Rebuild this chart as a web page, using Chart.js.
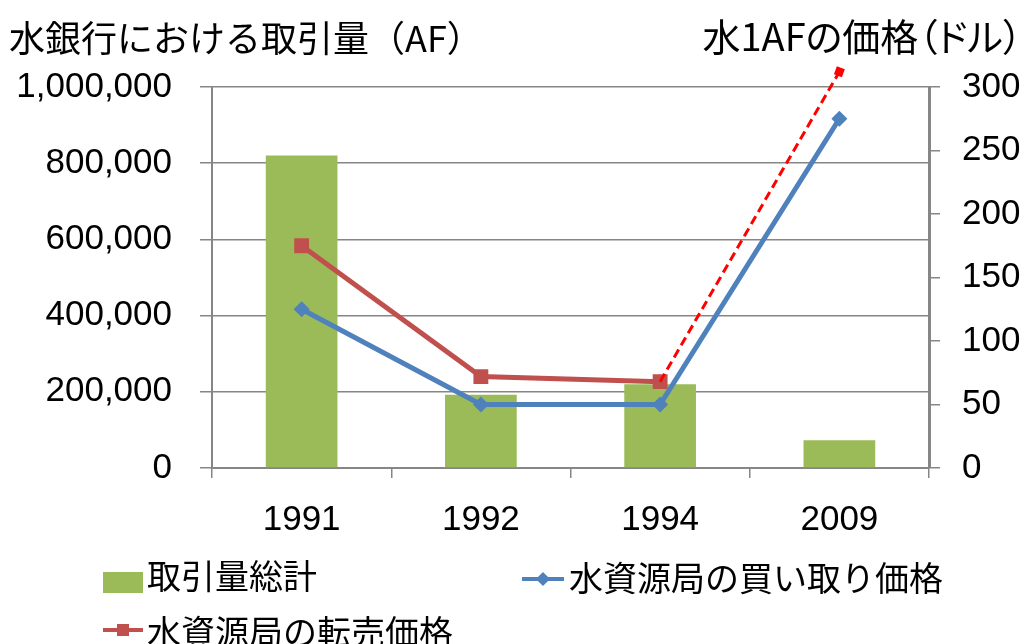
<!DOCTYPE html>
<html>
<head>
<meta charset="utf-8">
<script src="https://cdn.jsdelivr.net/npm/chart.js@4/dist/chart.umd.min.js"></script>
<style>
  body { margin: 0; background: #fff; }
  #wrap { position: relative; width: 1026px; height: 644px; overflow: hidden; }
  #chart { position: absolute; left: 0; top: 0; }
  .jp { position: absolute; font-family: "Noto Sans CJK JP", sans-serif; font-size: 34px; line-height: 40px; color: #000; white-space: nowrap; }
  .title { font-size: 36px; }
  .sw { position: absolute; }
</style>
</head>
<body>
<div id="wrap">
  <canvas id="chart" width="1026" height="644"></canvas>
  <div class="jp title" style="left:9px; top:16px;">水銀行における取引量（AF）</div>
  <div class="jp title" style="right:4px; top:15px; font-size:38px; font-feature-settings:'palt';">水1AFの価格（ドル）</div>

  <!-- legend -->
  <div class="sw" style="left:103px; top:572px; width:40px; height:21px; background:#9BBB59;"></div>
  <div class="jp" id="lg1" style="left:147px; top:555px;"></div>

  <div class="sw" style="left:522px; top:577px; width:42px; height:4px; background:#4F81BD;"></div>
  <div class="sw" style="left:538px; top:574px; width:10px; height:10px; background:#4F81BD; transform:rotate(45deg);"></div>
  <div class="jp" id="lg2" style="left:569px; top:557px;"></div>

  <div class="sw" style="left:103px; top:628px; width:40px; height:4px; background:#C0504D;"></div>
  <div class="sw" style="left:117px; top:624px; width:12px; height:12px; background:#C0504D;"></div>
  <div class="jp" id="lg3" style="left:147px; top:611px;"></div>
</div>
<script>
// data
let years = ["1991", "1992", "1994", "2009"];
let seriesNames = ["取引量総計", "水資源局の買い取り価格", "水資源局の転売価格"];
let volume = [820000, 192000, 220000, 73000];
let buyPrice = [125, 50, 50, 275];
let resalePrice = [175, 72, 68, null];
let resaleTrend = [null, null, 68, 312];

let green = "#9BBB59";
let blue = "#4F81BD";
let red = "#C0504D";
let gray = "#868686";

document.getElementById("lg1").textContent = seriesNames[0];
document.getElementById("lg2").textContent = seriesNames[1];
document.getElementById("lg3").textContent = seriesNames[2];

let tickFont = { family: "Liberation Sans", size: 35 };

// points above the chart area are skipped by chart.js, so draw them again without an area
const outsidePoints = {
  id: "outsidePoints",
  afterDatasetsDraw(chart) {
    chart.data.datasets.forEach((ds, i) => {
      if (ds.clip !== false) return;
      chart.getDatasetMeta(i).data.forEach((pt) => {
        if (pt.y < chart.chartArea.top) pt.draw(chart.ctx);
      });
    });
  },
};

const ctx = document.getElementById("chart").getContext("2d");
const chart = new Chart(ctx, {
  type: "bar",
  data: {
    labels: years,
    datasets: [
      {
        label: seriesNames[1],
        type: "line",
        data: buyPrice,
        yAxisID: "y1",
        borderColor: blue,
        backgroundColor: blue,
        borderWidth: 5,
        pointStyle: "rectRot",
        pointRadius: 8,
        pointBorderWidth: 0,
        order: 2,
      },
      {
        label: seriesNames[2],
        type: "line",
        data: resalePrice,
        yAxisID: "y1",
        borderColor: red,
        backgroundColor: red,
        borderWidth: 5,
        pointStyle: "rect",
        pointRadius: 10.5,
        pointBorderWidth: 0,
        order: 1,
      },
      {
        // dashed extension of the resale price, not in the legend
        label: "trend",
        type: "line",
        data: resaleTrend,
        yAxisID: "y1",
        borderColor: "#FF0000",
        backgroundColor: "#FF0000",
        pointBackgroundColor: "#FF0000",
        borderWidth: 3,
        borderDash: [9, 5],
        pointStyle: "rect",
        pointRadius: [0, 0, 0, 6],
        pointRotation: 20,
        pointBorderWidth: 0,
        clip: false,
        order: 0,
      },
      {
        label: seriesNames[0],
        data: volume,
        yAxisID: "y",
        backgroundColor: green,
        barPercentage: 0.4,
        categoryPercentage: 1,
        order: 5,
      },
    ],
  },
  options: {
    responsive: false,
    animation: false,
    layout: { padding: { top: 87, left: 0, right: 0, bottom: 0 } },
    plugins: {
      legend: { display: false },
      tooltip: { enabled: false },
    },
    scales: {
      x: {
        offset: true,
        grid: { offset: true, drawOnChartArea: false, drawTicks: true, tickLength: 10, color: gray, lineWidth: 1.5 },
        border: { color: gray, width: 2 },
        ticks: { font: tickFont, color: "#000", padding: 21 },
        afterFit: (scale) => { scale.height = 176; },
      },
      y: {
        position: "left",
        min: 0,
        max: 1000000,
        ticks: {
          stepSize: 200000,
          font: tickFont,
          color: "#000",
          padding: 28,
          callback: (v) => v.toLocaleString("en-US"),
        },
        grid: { color: gray, lineWidth: 1.5, tickLength: 12 },
        border: { color: gray, width: 2 },
        afterFit: (scale) => { scale.width = 212; },
      },
      y1: {
        position: "right",
        min: 0,
        max: 300,
        ticks: { stepSize: 50, font: tickFont, color: "#000", padding: 22 },
        grid: { drawOnChartArea: false, color: gray, lineWidth: 1.5, tickLength: 11 },
        border: { color: gray, width: 3 },
        afterFit: (scale) => { scale.width = 97; },
      },
    },
  },
  plugins: [outsidePoints],
});
</script>
</body>
</html>
